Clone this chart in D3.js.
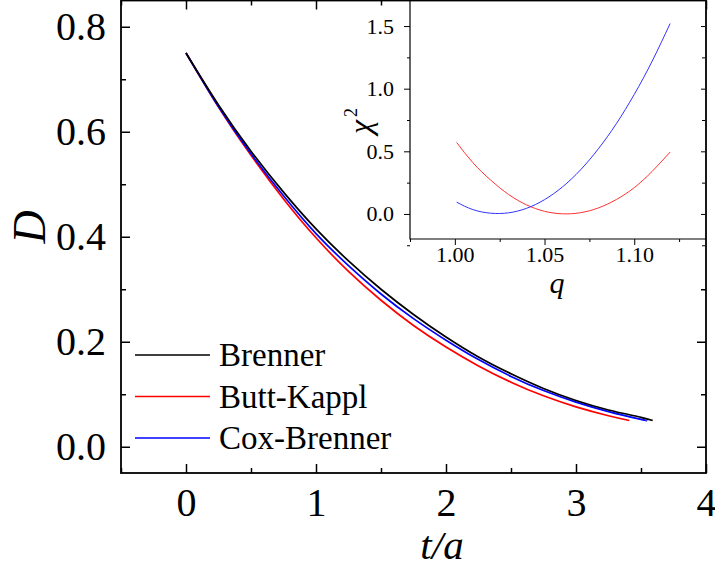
<!DOCTYPE html>
<html>
<head>
<meta charset="utf-8">
<script src="https://cdn.jsdelivr.net/npm/d3@7"></script>
<style>
  body { margin: 0; background: #fff; }
  svg { display: block; }
</style>
</head>
<body>
<svg width="715" height="572" font-family="Liberation Serif"></svg>
<script>
// main plot data
var tBrenner = [0, 0.25, 0.5, 0.75, 1.0, 1.25, 1.5, 1.75, 2.0, 2.25, 2.5, 2.75, 3.0, 3.25, 3.5, 3.59];
var dBrenner = [0.750, 0.651, 0.563, 0.485, 0.415, 0.354, 0.300, 0.252, 0.209, 0.171, 0.139, 0.111, 0.088, 0.070, 0.056, 0.050];
var tButt = [0, 0.25, 0.5, 0.75, 1.0, 1.25, 1.5, 1.75, 2.0, 2.25, 2.5, 2.75, 3.0, 3.25, 3.41];
var dButt = [0.750, 0.647, 0.555, 0.472, 0.398, 0.334, 0.279, 0.231, 0.190, 0.154, 0.123, 0.097, 0.076, 0.059, 0.050];
var tCox = [0, 0.25, 0.5, 0.75, 1.0, 1.25, 1.5, 1.75, 2.0, 2.25, 2.5, 2.75, 3.0, 3.25, 3.5, 3.54];
var dCox = [0.750, 0.648, 0.558, 0.478, 0.406, 0.345, 0.291, 0.244, 0.203, 0.166, 0.134, 0.107, 0.085, 0.067, 0.052, 0.050];

// inset data (chi^2 vs q)
var qValues = [1.001, 1.01, 1.02, 1.03, 1.04, 1.05, 1.06, 1.07, 1.08, 1.09, 1.10, 1.11, 1.12];
var chiButt = [0.571, 0.41, 0.27, 0.155, 0.072, 0.021, 0.001, 0.010, 0.048, 0.115, 0.21, 0.34, 0.494];
var chiCox = [0.094, 0.035, 0.006, 0.009, 0.045, 0.114, 0.216, 0.351, 0.52, 0.72, 0.954, 1.22, 1.52];

// ticks
var xMajor = [0, 1, 2, 3, 4];
var xMinor = [-0.5, 0.5, 1.5, 2.5, 3.5];
var yMajor = [0.0, 0.2, 0.4, 0.6, 0.8];
var yMinor = [0.1, 0.3, 0.5, 0.7];
var qMajor = [1.00, 1.05, 1.10];
var qMinor = [0.975, 1.025, 1.075, 1.125];
var cMajor = [0.0, 0.5, 1.0, 1.5];
var cMinor = [-0.25, 0.25, 0.75, 1.25];

var legendNames = ["Brenner", "Butt-Kappl", "Cox-Brenner"];
var colors = ["#000000", "#ff0000", "#0000ff"];

var serif = "Liberation Serif";

var svg = d3.select("svg");

// main scales
var x = d3.scaleLinear().domain([-0.5, 4]).range([121, 706]);
var y = d3.scaleLinear().domain([-0.05, 0.85]).range([473, 0.5]);

var main = svg.append("g");

function styleAxis(g, size) {
  g.attr("font-family", serif).attr("font-size", size);
  g.select(".domain").remove();
  g.selectAll("line").attr("stroke", "#000").attr("stroke-width", 1.5);
}

// main axes, ticks inside on all four sides
main.append("g").attr("transform", "translate(0,473)")
  .call(d3.axisBottom(x).tickValues(xMajor).tickSize(-9).tickPadding(15).tickFormat(d3.format("d")))
  .call(styleAxis, 40);
main.append("g").attr("transform", "translate(0,473)")
  .call(d3.axisBottom(x).tickValues(xMinor).tickSize(-5).tickFormat(""))
  .call(styleAxis, 40);
main.append("g").attr("transform", "translate(0,0.5)")
  .call(d3.axisTop(x).tickValues(xMajor).tickSize(-9).tickFormat(""))
  .call(styleAxis, 40);
main.append("g").attr("transform", "translate(0,0.5)")
  .call(d3.axisTop(x).tickValues(xMinor).tickSize(-5).tickFormat(""))
  .call(styleAxis, 40);
main.append("g").attr("transform", "translate(121,0)")
  .call(d3.axisLeft(y).tickValues(yMajor).tickSize(-9).tickPadding(15).tickFormat(d3.format(".1f")))
  .call(styleAxis, 40);
main.append("g").attr("transform", "translate(121,0)")
  .call(d3.axisLeft(y).tickValues(yMinor).tickSize(-5).tickFormat(""))
  .call(styleAxis, 40);
main.append("g").attr("transform", "translate(706,0)")
  .call(d3.axisRight(y).tickValues(yMajor).tickSize(-9).tickFormat(""))
  .call(styleAxis, 40);
main.append("g").attr("transform", "translate(706,0)")
  .call(d3.axisRight(y).tickValues(yMinor).tickSize(-5).tickFormat(""))
  .call(styleAxis, 40);

// curves
var line = d3.line()
  .x(function(d) { return x(d[0]); })
  .y(function(d) { return y(d[1]); })
  .curve(d3.curveNatural);

var series = [
  d3.zip(tBrenner, dBrenner),
  d3.zip(tButt, dButt),
  d3.zip(tCox, dCox)
];

// red first, then blue, black on top
[1, 2, 0].forEach(function(i) {
  main.append("path")
    .attr("d", line(series[i]))
    .attr("fill", "none")
    .attr("stroke", colors[i])
    .attr("stroke-width", 1.7);
});

// legend
var legend = main.append("g");
legendNames.forEach(function(name, i) {
  var ly = 355 + i * 41.5;
  legend.append("line")
    .attr("x1", 135).attr("x2", 210)
    .attr("y1", ly).attr("y2", ly)
    .attr("stroke", colors[i]).attr("stroke-width", 1.4);
  legend.append("text")
    .attr("x", 219).attr("y", ly + 11)
    .attr("font-family", serif).attr("font-size", 33)
    .text(name);
});

// axis titles
main.append("text")
  .attr("transform", "translate(45,227) rotate(-90)")
  .attr("text-anchor", "middle")
  .attr("font-family", serif).attr("font-size", 46).attr("font-style", "italic")
  .text("D");
main.append("text")
  .attr("x", 442).attr("y", 559)
  .attr("text-anchor", "middle")
  .attr("font-family", serif).attr("font-size", 41).attr("font-style", "italic")
  .text("t/a");

// inset
var qx = d3.scaleLinear().domain([0.975, 1.14]).range([410, 706]);
var cy = d3.scaleLinear().domain([-0.2, 1.7]).range([239, 1]);

var inset = svg.append("g");
inset.append("rect")
  .attr("x", 410).attr("y", 1)
  .attr("width", 296).attr("height", 238)
  .attr("fill", "#fff");

function styleInset(g) {
  g.attr("font-family", serif).attr("font-size", 22);
  g.select(".domain").remove();
  g.selectAll("line").attr("stroke", "#000").attr("stroke-width", 1);
}

inset.append("g").attr("transform", "translate(0,239)")
  .call(d3.axisBottom(qx).tickValues(qMajor).tickSize(6).tickPadding(1).tickFormat(d3.format(".2f")))
  .call(styleInset);
inset.append("g").attr("transform", "translate(0,239)")
  .call(d3.axisBottom(qx).tickValues(qMinor).tickSize(3).tickFormat(""))
  .call(styleInset);
inset.append("g").attr("transform", "translate(410,0)")
  .call(d3.axisLeft(cy).tickValues(cMajor).tickSize(6).tickPadding(10).tickFormat(d3.format(".1f")))
  .call(styleInset);
inset.append("g").attr("transform", "translate(410,0)")
  .call(d3.axisLeft(cy).tickValues(cMinor).tickSize(3).tickFormat(""))
  .call(styleInset);
inset.append("g").attr("transform", "translate(705,0)")
  .call(d3.axisRight(cy).tickValues(cMajor).tickSize(-4).tickFormat(""))
  .call(styleInset);
inset.append("g").attr("transform", "translate(705,0)")
  .call(d3.axisRight(cy).tickValues(cMinor).tickSize(-3).tickFormat(""))
  .call(styleInset);

// inset frame: left and bottom
inset.append("path")
  .attr("d", "M410,1V239H706")
  .attr("fill", "none").attr("stroke", "#000").attr("stroke-width", 1.2);

var insetLine = d3.line()
  .x(function(d) { return qx(d[0]); })
  .y(function(d) { return cy(d[1]); })
  .curve(d3.curveNatural);

inset.append("path")
  .attr("d", insetLine(d3.zip(qValues, chiButt)))
  .attr("fill", "none").attr("stroke", "#ff3333").attr("stroke-width", 1);
inset.append("path")
  .attr("d", insetLine(d3.zip(qValues, chiCox)))
  .attr("fill", "none").attr("stroke", "#3333ff").attr("stroke-width", 1);

inset.append("text")
  .attr("x", 557).attr("y", 293)
  .attr("text-anchor", "middle")
  .attr("font-family", serif).attr("font-size", 30).attr("font-style", "italic")
  .text("q");

var chi = inset.append("text")
  .attr("transform", "translate(371,121) rotate(-90)")
  .attr("text-anchor", "middle")
  .attr("font-family", serif).attr("font-size", 32).attr("font-style", "italic");
chi.append("tspan").text("\u03c7");
chi.append("tspan").attr("dy", -14).attr("dx", 3).attr("font-size", 18).attr("font-style", "normal").text("2");

// main frame on top
svg.append("rect")
  .attr("x", 121).attr("y", 0.5)
  .attr("width", 585).attr("height", 472.5)
  .attr("fill", "none").attr("stroke", "#000").attr("stroke-width", 1.8);
</script>
</body>
</html>
